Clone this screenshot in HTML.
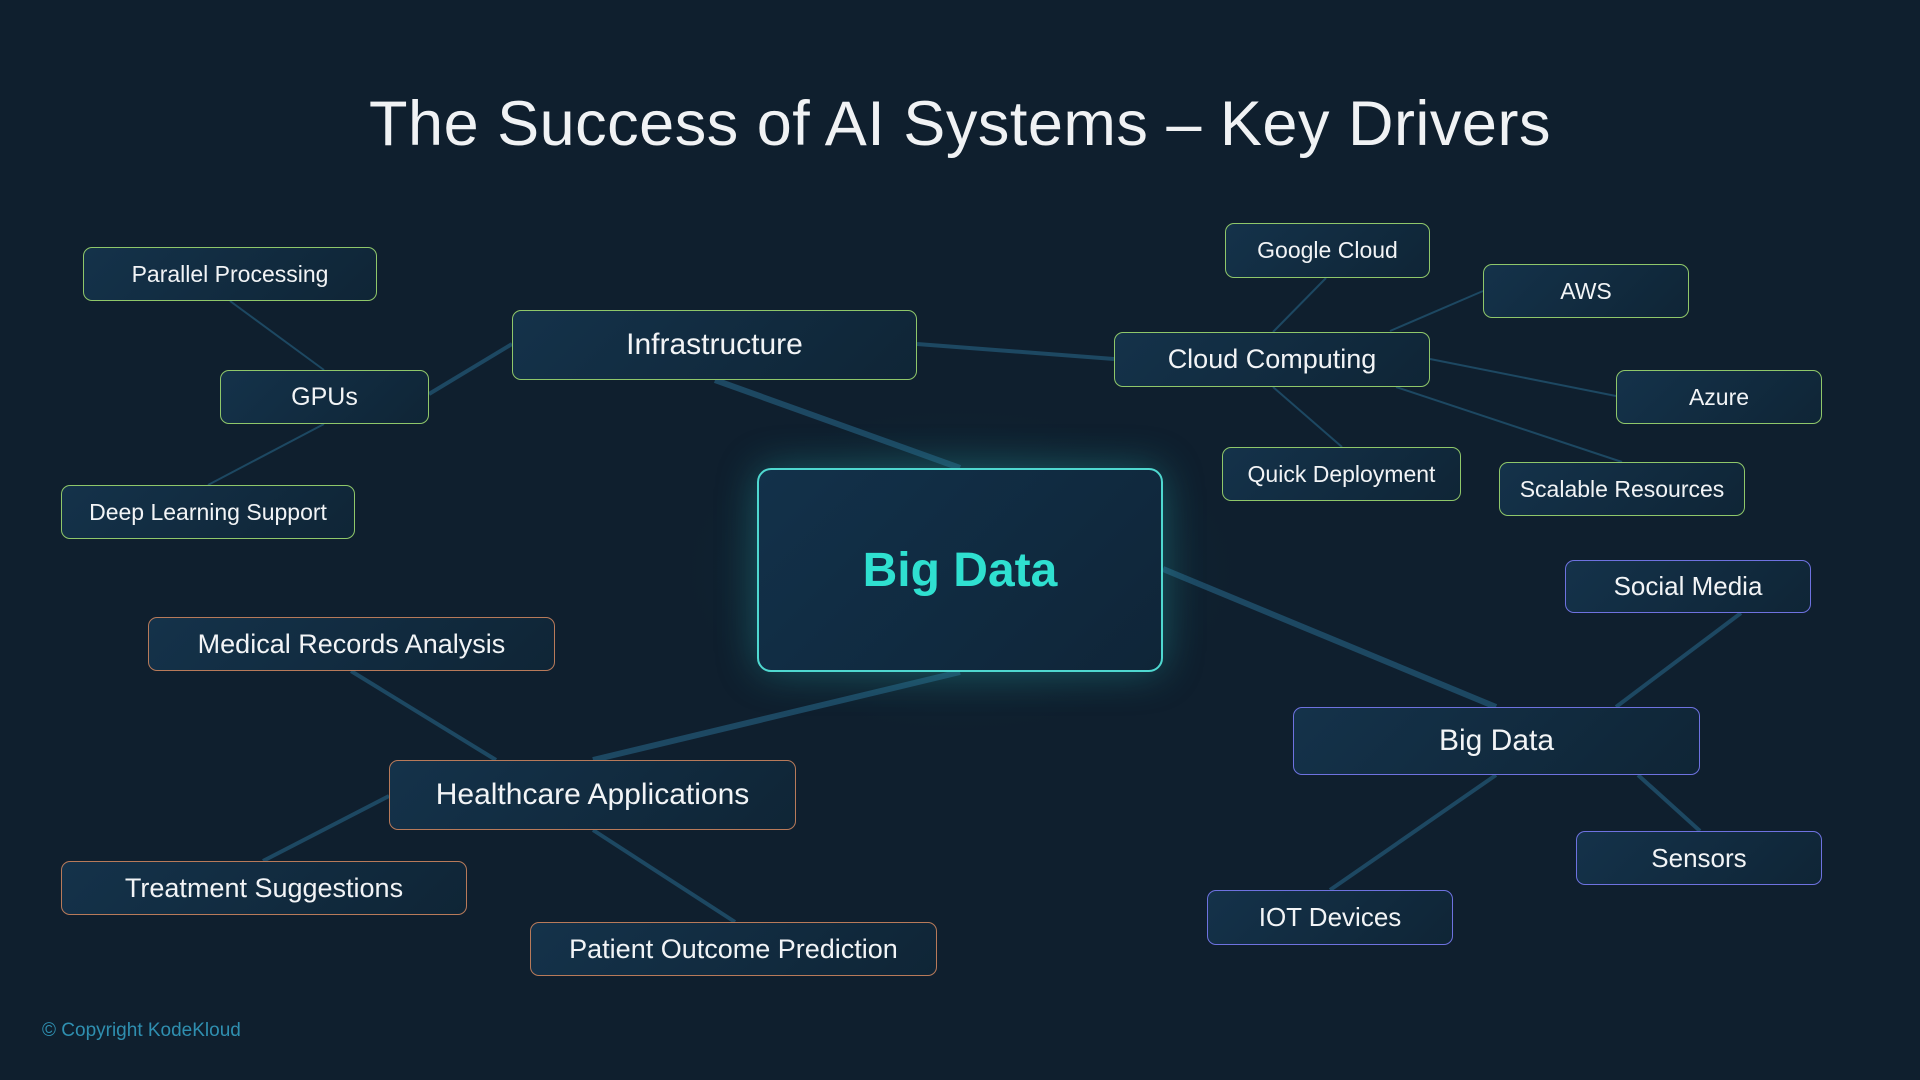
<!DOCTYPE html>
<html><head><meta charset="utf-8"><style>
body{margin:0;width:1920px;height:1080px;background:#0f1f2e;overflow:hidden;position:relative;font-family:"Liberation Sans",sans-serif;}
.t{position:absolute;left:0;width:1920px;text-align:center;top:88px;font-size:63px;color:#f0f2f4;letter-spacing:0.5px}
.b{position:absolute;box-sizing:border-box;border-radius:9px;background:linear-gradient(135deg,#14324a,#0f2536);color:#f2f4f6;display:flex;align-items:center;justify-content:center;font-size:23px;border:1.5px solid}
.g{border-color:#8fc76a}
.o{border-color:#b87a5a}
.p{border-color:#6e72e0}
.L{font-size:30px}
svg{position:absolute;left:0;top:0}
.c{position:absolute;left:42px;top:1020px;font-size:19px;color:#2f8fb0}
</style></head><body>
<svg width="1920" height="1080">
<defs><radialGradient id="gl" cx="50%" cy="50%" r="50%"><stop offset="0" stop-color="#1d6a70" stop-opacity=".8"/><stop offset="1" stop-color="#0f1f2e" stop-opacity="0"/></radialGradient></defs>
<ellipse cx="960" cy="570" rx="290" ry="170" fill="url(#gl)"/>
<g stroke="#1d4862" stroke-width="3" fill="none">
<line x1="917" y1="344" x2="1114" y2="359" stroke-width="4"/>
<line x1="512" y1="344" x2="429" y2="394" stroke-width="4"/>
<line x1="324" y1="370" x2="230" y2="301" stroke-width="2"/>
<line x1="324" y1="424" x2="208" y2="485" stroke-width="2"/>
<line x1="1273" y1="332" x2="1326" y2="278" stroke-width="2"/>
<line x1="1390" y1="331" x2="1483" y2="291" stroke-width="2"/>
<line x1="1430" y1="359" x2="1616" y2="396" stroke-width="2"/>
<line x1="1396" y1="387" x2="1622" y2="462" stroke-width="2"/>
<line x1="1273" y1="387" x2="1342" y2="447" stroke-width="2"/>
<line x1="1616" y1="707" x2="1741" y2="613" stroke-width="4"/>
<line x1="1638" y1="775" x2="1700" y2="831" stroke-width="4"/>
<line x1="1496" y1="775" x2="1330" y2="890" stroke-width="4"/>
<line x1="351" y1="671" x2="496" y2="760" stroke-width="4"/>
<line x1="389" y1="796" x2="263" y2="861" stroke-width="4"/>
<line x1="593" y1="830" x2="735" y2="922" stroke-width="4"/>
<line x1="715" y1="380" x2="960" y2="468" stroke-width="6"/>
<line x1="1163" y1="569" x2="1496" y2="707" stroke-width="6"/>
<line x1="960" y1="672" x2="593" y2="760" stroke-width="6"/>
</g>
</svg>
<div class="t">The Success of AI Systems – Key Drivers</div>
<div class="b g" style="left:83px;top:247px;width:294px;height:54px">Parallel Processing</div>
<div class="b g" style="left:220px;top:370px;width:209px;height:54px;font-size:25px">GPUs</div>
<div class="b g" style="left:61px;top:485px;width:294px;height:54px">Deep Learning Support</div>
<div class="b g L" style="left:512px;top:310px;width:405px;height:70px">Infrastructure</div>
<div class="b g" style="left:1225px;top:223px;width:205px;height:55px">Google Cloud</div>
<div class="b g" style="left:1483px;top:264px;width:206px;height:54px">AWS</div>
<div class="b g" style="left:1114px;top:332px;width:316px;height:55px;font-size:27px">Cloud Computing</div>
<div class="b g" style="left:1616px;top:370px;width:206px;height:54px">Azure</div>
<div class="b g" style="left:1222px;top:447px;width:239px;height:54px">Quick Deployment</div>
<div class="b g" style="left:1499px;top:462px;width:246px;height:54px">Scalable Resources</div>
<div class="b" style="left:757px;top:468px;width:406px;height:204px;border:2px solid #4fd8d0;border-radius:14px;background:linear-gradient(135deg,#12314a,#0f2538);box-shadow:0 0 40px rgba(40,180,180,.35)"><span style="color:#2fe0d0;font-weight:bold;font-size:48px">Big Data</span></div>
<div class="b p" style="left:1565px;top:560px;width:246px;height:53px;font-size:26px">Social Media</div>
<div class="b p L" style="left:1293px;top:707px;width:407px;height:68px">Big Data</div>
<div class="b p" style="left:1576px;top:831px;width:246px;height:54px;font-size:26px">Sensors</div>
<div class="b p" style="left:1207px;top:890px;width:246px;height:55px;font-size:26px">IOT Devices</div>
<div class="b o" style="left:148px;top:617px;width:407px;height:54px;font-size:27px">Medical Records Analysis</div>
<div class="b o L" style="left:389px;top:760px;width:407px;height:70px">Healthcare Applications</div>
<div class="b o" style="left:61px;top:861px;width:406px;height:54px;font-size:27px">Treatment Suggestions</div>
<div class="b o" style="left:530px;top:922px;width:407px;height:54px;font-size:27px">Patient Outcome Prediction</div>
<div class="c">© Copyright KodeKloud</div>
</body></html>
